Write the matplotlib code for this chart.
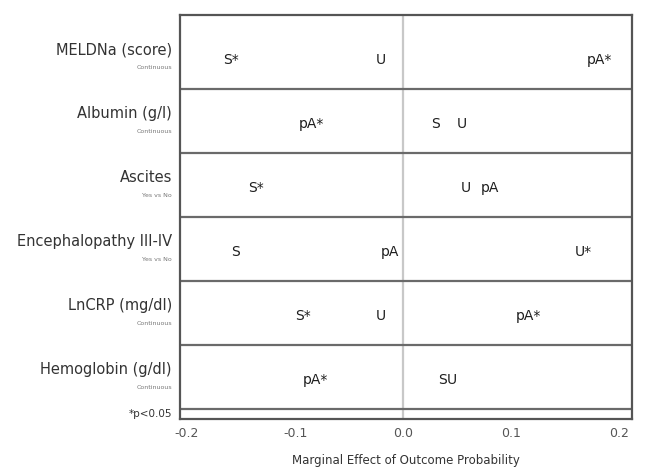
#!/usr/bin/env python3

import matplotlib
matplotlib.use("Agg")
import matplotlib.pyplot as plt

# predictors, top to bottom
predictors = ["MELDNa (score)", "Albumin (g/l)", "Ascites",
              "Encephalopathy III-IV", "LnCRP (mg/dl)", "Hemoglobin (g/dl)"]
scales = ["Continuous", "Continuous", "Yes vs No",
          "Yes vs No", "Continuous", "Continuous"]

# marginal effects per outcome (S, U, pA), star = p<0.05
eff_S  = [-0.159, 0.030, -0.136, -0.155, -0.093, 0.036]
eff_U  = [-0.021, 0.054,  0.058,  0.167, -0.021, 0.045]
eff_pA = [ 0.182, -0.085, 0.080, -0.012,  0.116, -0.081]
sig_S  = [True, False, True, False, True, False]
sig_U  = [False, False, False, True, False, False]
sig_pA = [True, True, False, False, True, True]

xticks = [-0.2, -0.1, 0.0, 0.1, 0.2]

fig = plt.figure(figsize=(6.63, 4.70), dpi=100)
ax = fig.add_axes([180/663, 1 - 419/470, 452/663, 404/470])

dark = "#333333"
n = len(predictors)
ax.set_xlim(-0.2065, 0.2118)
ax.set_ylim(n - 0.5 + 10/64, -0.5 - 10/64)

ax.axvline(0, color="#c8c8c8", lw=1.6, zorder=0)
for i in range(n):
    ax.axhline(i + 0.5, color="#6a6a6a", lw=1.6)

for name, vals, sigs in [("S", eff_S, sig_S), ("U", eff_U, sig_U), ("pA", eff_pA, sig_pA)]:
    for i, (v, s) in enumerate(zip(vals, sigs)):
        label = name + ("*" if s else "")
        ax.text(v, i + 0.05, label, ha="center", va="center",
                fontsize=10, fontweight="medium", color="#1e1e1e")

tr = ax.get_yaxis_transform()
for i, (p, sc) in enumerate(zip(predictors, scales)):
    ax.text(-0.018, i - 0.11, p, transform=tr, ha="right", va="center",
            fontsize=10.5, color=dark)
    ax.text(-0.018, i + 0.17, sc, transform=tr, ha="right", va="center",
            fontsize=4.5, color="#777777")
ax.text(-0.018, n - 0.5 + 0.08, "*p<0.05", transform=tr, ha="right", va="center",
        fontsize=7.5, color=dark)

ax.set_yticks([])
ax.set_xticks(xticks)
ax.set_xticklabels([f"{t:.1f}" for t in xticks])
ax.tick_params(axis="x", length=0, labelsize=9, colors="#555555", pad=6)
ax.set_xlabel("Marginal Effect of Outcome Probability", fontsize=8.5,
              color=dark, labelpad=10)
for sp in ax.spines.values():
    sp.set_color("#555555")
    sp.set_linewidth(1.6)

fig.savefig("out.png", dpi=100)
